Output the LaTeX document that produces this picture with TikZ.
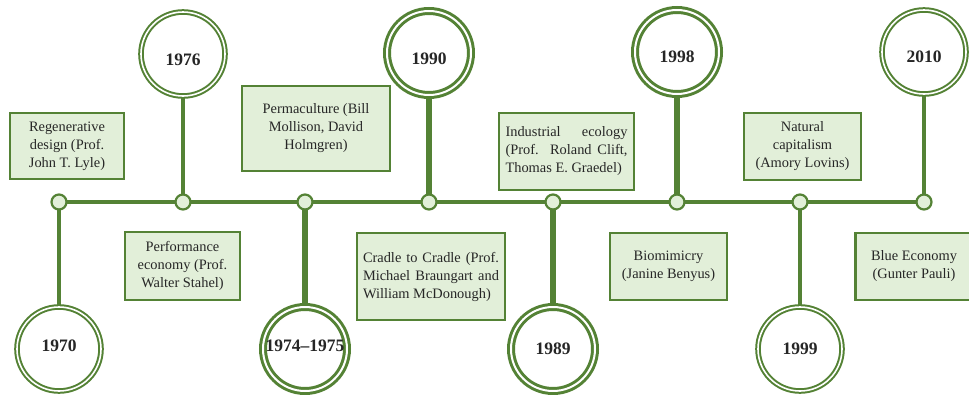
\documentclass[tikz,border=0pt]{standalone}
\usepackage{fontspec}
\setmainfont{Liberation Serif}
\usetikzlibrary{backgrounds}
\definecolor{leaf}{HTML}{548235}
\definecolor{mint}{HTML}{E2EFD9}
\definecolor{ink}{HTML}{262626}
\begin{document}
\begin{tikzpicture}[x=1pt,y=-1pt,
    dot/.style={circle,draw=leaf,fill=mint,line width=2.2pt,minimum size=15pt,inner sep=0pt},
    year/.style={circle,draw=leaf,fill=white,line width=2pt,double=white,double distance=1.6pt,
      minimum size=84pt,inner sep=0pt,text=ink,font=\fontsize{17.5}{20}\selectfont\bfseries},
    bigyear/.style={year,line width=3pt,double distance=2pt},
    low/.style={text height=23pt,text depth=0pt},
    high/.style={text height=8pt,text depth=4pt},
    note/.style={rectangle,draw=leaf,fill=mint,line width=2.4pt,inner sep=0pt,text=ink,
      align=center,font=\fontsize{14.4}{18}\selectfont},
    rail/.style={draw=leaf,line width=4pt},
    stem/.style={draw=leaf,line width=3.6pt},
    bigstem/.style={draw=leaf,line width=6.5pt}]
  \useasboundingbox (0,0) rectangle (969,394);
  % timeline dots
  \draw
    (59,202) node[dot] (d1){}
    (183,202) node[dot] (d2){}
    (305,202) node[dot] (d3){}
    (429,202) node[dot] (d4){}
    (553,202) node[dot] (d5){}
    (677,202) node[dot] (d6){}
    (800,202) node[dot] (d7){}
    (924,202) node[dot] (d8){};
  % years
  \draw
    (59,349) node[year,high] (y1970){1970}
    (183,54) node[year,low] (y1976){1976}
    (305,349) node[bigyear,high] (y1974){1974--1975}
    (429,53) node[bigyear,low] (y1990){1990}
    (553,349) node[bigyear] (y1989){1989}
    (677,52) node[bigyear,text height=20pt,text depth=0pt] (y1998){1998}
    (800,349) node[year] (y1999){1999}
    (924,52) node[year,text height=20pt,text depth=0pt] (y2010){2010};
  % boxes
  \draw
    (67,146) node[note,minimum width=114pt,minimum height=66pt] (regen){Regenerative\\design (Prof.\\John T. Lyle)}
    (316,128.5) node[note,minimum width=148pt,minimum height=85pt] (perma){Permaculture (Bill\\Mollison, David\\Holmgren)}
    (566.5,151.5) node[note,align=left,minimum width=135pt,minimum height=77pt] (indus){\makebox[122pt][s]{Industrial ecology}\\\makebox[122pt][s]{(Prof. Roland Clift,}\\Thomas E. Graedel)}
    (802.5,146.5) node[note,minimum width=117pt,minimum height=67pt] (natcap){Natural\\capitalism\\(Amory Lovins)}
    (182.5,266) node[note,minimum width=115pt,minimum height=68pt] (perf){Performance\\economy (Prof.\\Walter Stahel)}
    (431,276.5) node[note,align=left,minimum width=148pt,minimum height=87pt] (cradle){\makebox[136pt][s]{Cradle to Cradle (Prof.}\\\makebox[136pt][s]{Michael Braungart and}\\William McDonough)}
    (668.5,266.5) node[note,minimum width=117pt,minimum height=67pt] (biomim){Biomimicry\\(Janine Benyus)}
    (914,266.5) node[note,minimum width=117pt,minimum height=67pt] (blue){Blue Economy\\(Gunter Pauli)};
  \begin{scope}[on background layer]
    \draw[rail] (d1.center) -- (d8.center);
    \draw[stem] (d1.center) to (y1970.center);
    \draw[stem] (d2.center) to (y1976.center);
    \draw[bigstem] (d3.center) to (y1974.center);
    \draw[bigstem] (d4.center) to (y1990.center);
    \draw[bigstem] (d5.center) to (y1989.center);
    \draw[bigstem] (d6.center) to (y1998.center);
    \draw[stem] (d7.center) to (y1999.center);
    \draw[stem] (d8.center) to (y2010.center);
  \end{scope}
\end{tikzpicture}
\end{document}
